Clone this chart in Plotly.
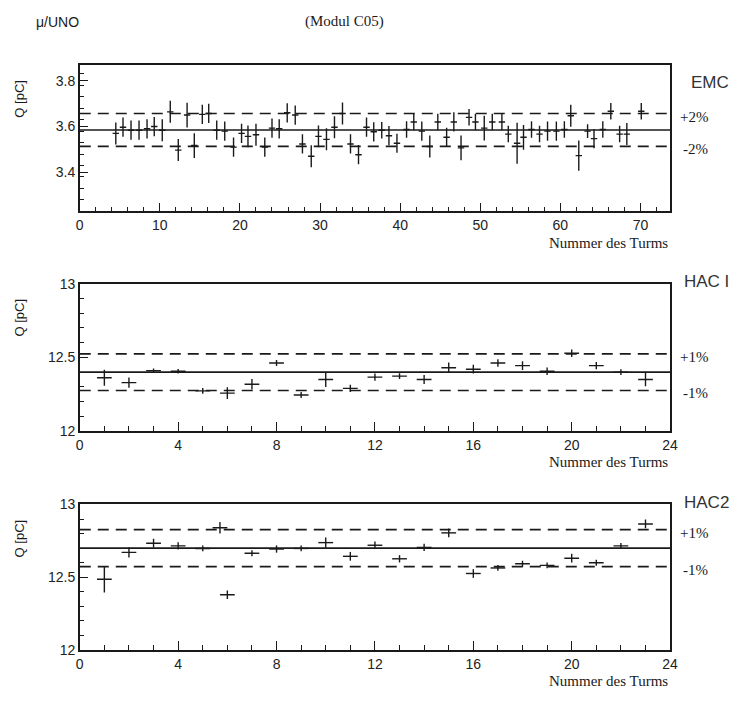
import plotly.graph_objects as go

W, H = 745, 705

# ---- EMC: charge per turn (Modul C05) ----
emc_turn = [4.5, 5.4, 6.4, 7.4, 8.4, 9.3, 10.3, 11.3, 12.3, 13.4, 14.3, 15.3, 16.1, 17.1,
            18.1, 19.2, 20.2, 21.0, 22.0, 23.1, 24.0, 24.9, 25.9, 26.9, 27.8, 28.9, 29.8,
            30.8, 31.8, 32.8, 33.8, 34.8, 35.8, 36.7, 37.7, 38.6, 39.6, 40.8, 41.7, 42.7,
            43.7, 44.7, 45.8, 46.7, 47.6, 48.6, 49.4, 50.5, 51.5, 52.7, 53.5, 54.6, 55.4,
            56.4, 57.4, 58.4, 59.5, 60.5, 61.3, 62.3, 63.4, 64.2, 65.3, 66.3, 67.4, 68.3, 70.1]
emc_q = [3.570, 3.597, 3.584, 3.584, 3.590, 3.600, 3.584, 3.664, 3.497, 3.650, 3.517, 3.653,
         3.657, 3.584, 3.580, 3.510, 3.570, 3.557, 3.564, 3.510, 3.593, 3.590, 3.660, 3.650,
         3.524, 3.470, 3.557, 3.544, 3.597, 3.657, 3.524, 3.477, 3.597, 3.577, 3.584, 3.560,
         3.527, 3.587, 3.620, 3.580, 3.513, 3.620, 3.553, 3.620, 3.507, 3.640, 3.620, 3.593,
         3.620, 3.620, 3.567, 3.527, 3.553, 3.587, 3.567, 3.580, 3.580, 3.587, 3.647, 3.473,
         3.580, 3.547, 3.587, 3.667, 3.567, 3.567, 3.667]
emc_err = [0.048, 0.042, 0.042, 0.042, 0.042, 0.042, 0.048, 0.048, 0.048, 0.054, 0.054, 0.042,
           0.042, 0.042, 0.042, 0.042, 0.042, 0.048, 0.048, 0.042, 0.042, 0.042, 0.042, 0.042,
           0.042, 0.048, 0.048, 0.048, 0.048, 0.048, 0.042, 0.042, 0.042, 0.042, 0.036, 0.042,
           0.042, 0.036, 0.036, 0.042, 0.048, 0.036, 0.042, 0.042, 0.054, 0.036, 0.036, 0.054,
           0.036, 0.036, 0.036, 0.090, 0.054, 0.036, 0.036, 0.042, 0.042, 0.036, 0.048, 0.066,
           0.030, 0.042, 0.036, 0.036, 0.036, 0.048, 0.036]
emc_mean, emc_band = 3.585, 0.02

# ---- HAC1 ----
hac1_turn = list(range(1, 24))
hac1_q = [12.362, 12.329, 12.410, 12.406, 12.273, 12.258, 12.318, 12.462, 12.245, 12.350,
          12.290, 12.366, 12.373, 12.350, 12.430, 12.420, 12.462, 12.444, 12.406, 12.528,
          12.444, 12.400, 12.350]
hac1_err = [0.055, 0.035, 0.015, 0.015, 0.020, 0.040, 0.035, 0.020, 0.020, 0.050, 0.025,
            0.025, 0.020, 0.030, 0.035, 0.030, 0.025, 0.030, 0.025, 0.025, 0.025, 0.020, 0.045]
hac1_mean, hac1_band = 12.40, 0.01

# ---- HAC2 ----
hac2_turn = [1, 2, 3, 4, 5, 5.7, 6, 7, 8, 9, 10, 11, 12, 13, 14, 15, 16, 17, 18, 19, 20, 21, 22, 23]
hac2_q = [12.486, 12.671, 12.734, 12.716, 12.698, 12.840, 12.380, 12.665, 12.694, 12.698,
          12.738, 12.644, 12.720, 12.627, 12.705, 12.805, 12.526, 12.564, 12.593, 12.582,
          12.631, 12.600, 12.716, 12.866]
hac2_err = [0.090, 0.035, 0.030, 0.025, 0.020, 0.040, 0.030, 0.020, 0.025, 0.020, 0.035,
            0.030, 0.025, 0.025, 0.025, 0.030, 0.030, 0.020, 0.020, 0.020, 0.030, 0.020,
            0.020, 0.030]
hac2_mean, hac2_band = 12.70, 0.01

INK = "#1a1a1a"
SERIF = "Liberation Serif, Times New Roman, serif"
SANS = "Liberation Sans, Arial, sans-serif"

panels = [
    dict(turn=emc_turn, q=emc_q, err=emc_err, mean=emc_mean, band=emc_band,
         xr=[0, 73.7], yr=[3.23, 3.87], xd=10, xm=2, ytick=[3.4, 3.6, 3.8], ym=0.05,
         top=58, bot=208, xerr=0.4, name="EMC", pct="2%"),
    dict(turn=hac1_turn, q=hac1_q, err=hac1_err, mean=hac1_mean, band=hac1_band,
         xr=[0, 24], yr=[12, 13], xd=4, xm=1, ytick=[12, 12.5, 13], ym=0.1,
         top=282, bot=433, xerr=0.3, name="HAC I", pct="1%"),
    dict(turn=hac2_turn, q=hac2_q, err=hac2_err, mean=hac2_mean, band=hac2_band,
         xr=[0, 24], yr=[12, 13], xd=4, xm=1, ytick=[12, 12.5, 13], ym=0.1,
         top=508, bot=657, xerr=0.3, name="HAC2", pct="1%"),
]

XL, XR = 77, 677
fig = go.Figure()
annotations = []


def px(x):
    return x / W


def py(y):
    return 1 - y / H


for i, p in enumerate(panels):
    n = "" if i == 0 else str(i + 1)
    xa, ya = "x" + n, "y" + n
    # mean and +/- band lines
    fig.add_trace(go.Scatter(x=p["xr"], y=[p["mean"]] * 2, mode="lines",
                             line=dict(color=INK, width=1.6), xaxis=xa, yaxis=ya,
                             showlegend=False, hoverinfo="skip"))
    for s in (1, -1):
        lvl = p["mean"] * (1 + s * p["band"])
        fig.add_trace(go.Scatter(x=p["xr"], y=[lvl] * 2, mode="lines",
                                 line=dict(color=INK, width=1.6, dash="11px,7px"),
                                 xaxis=xa, yaxis=ya, showlegend=False, hoverinfo="skip"))
    # measurements with errors
    fig.add_trace(go.Scatter(
        x=p["turn"], y=p["q"], mode="markers",
        marker=dict(size=1, color=INK),
        error_y=dict(type="data", array=p["err"], color=INK, thickness=1.4, width=0),
        error_x=dict(type="constant", value=p["xerr"], color=INK, thickness=1.4, width=0),
        xaxis=xa, yaxis=ya, showlegend=False))

    common = dict(showline=True, linecolor=INK, linewidth=1.5, mirror=True,
                  ticks="inside", tickcolor=INK, showgrid=False, zeroline=False,
                  tickfont=dict(family=SANS, size=14, color="#222"))
    fig.layout["xaxis" + n] = dict(
        domain=[px(XL), px(XR)], range=p["xr"], anchor=ya, dtick=p["xd"], tick0=0,
        ticklen=9, tickwidth=1.3,
        minor=dict(ticks="inside", dtick=p["xm"], ticklen=5, tickcolor=INK, tickwidth=1.1),
        **common)
    fig.layout["yaxis" + n] = dict(
        domain=[py(p["bot"]), py(p["top"])], range=p["yr"], anchor=xa,
        tickvals=p["ytick"], ticktext=[f"{v:g}" for v in p["ytick"]],
        ticklen=8, tickwidth=1.3,
        minor=dict(ticks="inside", dtick=p["ym"], tick0=p["yr"][0], ticklen=4,
                   tickcolor=INK, tickwidth=1.1),
        **common)

    # right-hand labels
    annotations.append(dict(x=px(739), y=py(p["top"] + 18 if i == 0 else p["top"] - 2),
                            xanchor="right", yanchor="middle", text=p["name"],
                            font=dict(family=SANS, size=17, color="#333")))
    up = p["mean"] * (1 + p["band"])
    dn = p["mean"] * (1 - p["band"])
    annotations.append(dict(x=px(685), xref="paper", y=up, yref=ya, xanchor="left",
                            yanchor="middle", yshift=-3, text="+" + p["pct"],
                            font=dict(family=SERIF, size=15, color=INK)))
    annotations.append(dict(x=px(688), xref="paper", y=dn, yref=ya, xanchor="left",
                            yanchor="middle", yshift=-3, text="-" + p["pct"],
                            font=dict(family=SERIF, size=15, color=INK)))
    # axis titles
    annotations.append(dict(x=px(XR), y=py(p["bot"] + 32), xanchor="right",
                            yanchor="middle", text="Nummer des Turms",
                            font=dict(family=SERIF, size=15, color=INK)))
    annotations.append(dict(x=px(16), y=py(p["top"] + 35), xanchor="center",
                            yanchor="middle", text="Q [pC]", textangle=-90,
                            font=dict(family=SANS, size=13, color=INK)))

for a in annotations:
    a.setdefault("xref", "paper")
    a.setdefault("yref", "paper")
    a["showarrow"] = False

annotations.append(dict(x=px(30), y=py(14), xref="paper", yref="paper", xanchor="left",
                        yanchor="middle", text="μ/UNO", showarrow=False,
                        font=dict(family=SANS, size=14, color=INK)))
annotations.append(dict(x=px(346), y=py(14), xref="paper", yref="paper", xanchor="center",
                        yanchor="middle", text="(Modul C05)", showarrow=False,
                        font=dict(family=SERIF, size=15, color=INK)))

fig.update_layout(width=W, height=H, margin=dict(l=0, r=0, t=0, b=0),
                  paper_bgcolor="white", plot_bgcolor="white",
                  annotations=annotations)

fig.write_html("out.html")
